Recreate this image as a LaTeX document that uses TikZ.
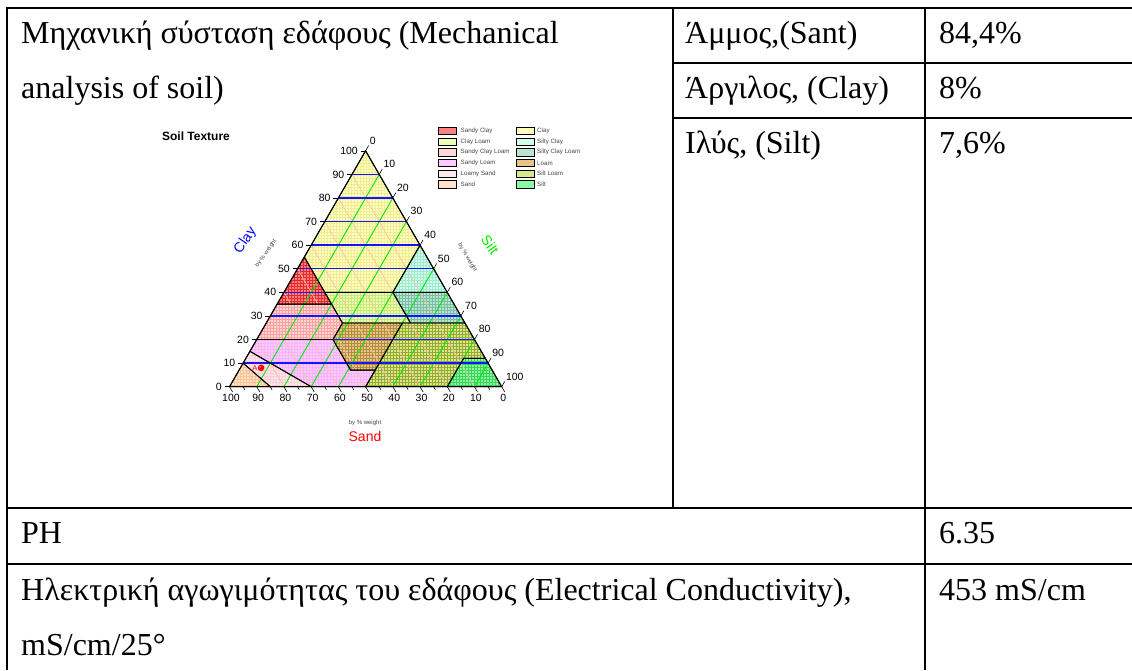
\documentclass[tikz,border=0pt]{standalone}
\usepackage{fontspec}
\setmainfont{Liberation Serif}
\setsansfont{Liberation Sans}
\usetikzlibrary{patterns}

\definecolor{sclay}{RGB}{255,130,130}  \definecolor{sclaym}{RGB}{230,40,40}
\definecolor{cloam}{RGB}{236,255,184}  \definecolor{cloamm}{RGB}{200,232,120}
\definecolor{scloam}{RGB}{255,214,214} \definecolor{scloamm}{RGB}{255,160,160}
\definecolor{sloam}{RGB}{255,202,255}  \definecolor{sloamm}{RGB}{245,180,245}
\definecolor{lsand}{RGB}{255,232,236}  \definecolor{lsandm}{RGB}{252,208,212}
\definecolor{sandc}{RGB}{255,226,200}  \definecolor{sandcm}{RGB}{252,196,150}
\definecolor{clayc}{RGB}{255,255,192}  \definecolor{claycm}{RGB}{242,236,150}
\definecolor{siclay}{RGB}{210,255,236} \definecolor{siclaym}{RGB}{160,235,205}
\definecolor{sicloam}{RGB}{184,228,208} \definecolor{sicloamm}{RGB}{120,190,160}
\definecolor{loam}{RGB}{228,198,136}   \definecolor{loamm}{RGB}{180,140,60}
\definecolor{siloam}{RGB}{216,232,144} \definecolor{siloamm}{RGB}{150,170,50}
\definecolor{siltc}{RGB}{140,250,160}  \definecolor{siltcm}{RGB}{60,210,90}
\definecolor{sandln}{RGB}{250,190,170}
\definecolor{siltln}{RGB}{0,235,0}
\definecolor{clayln}{RGB}{20,20,255}
\definecolor{keygray}{RGB}{70,70,70}

% point of the triangle: sand, silt, clay (sand corner at 229.5,386.7)
\newcommand{\tx}[3]{({229.5+2.722*(#2)+1.361*(#3)},{386.7-2.359*(#3)})}
\newcommand{\zClay}{\tx{0}{0}{100} -- \tx{45}{0}{55} -- \tx{45}{15}{40} -- \tx{20}{40}{40} -- \tx{0}{40}{60} -- cycle}
\newcommand{\zSaCl}{\tx{45}{0}{55} -- \tx{65}{0}{35} -- \tx{45}{20}{35} -- cycle}
\newcommand{\zSiCl}{\tx{0}{40}{60} -- \tx{20}{40}{40} -- \tx{0}{60}{40} -- cycle}
\newcommand{\zSaClLo}{\tx{65}{0}{35} -- \tx{80}{0}{20} -- \tx{52}{28}{20} -- \tx{45}{28}{27} -- \tx{45}{20}{35} -- cycle}
\newcommand{\zClLo}{\tx{45}{15}{40} -- \tx{20}{40}{40} -- \tx{20}{53}{27} -- \tx{45}{28}{27} -- cycle}
\newcommand{\zSiClLo}{\tx{20}{40}{40} -- \tx{0}{60}{40} -- \tx{0}{73}{27} -- \tx{20}{53}{27} -- cycle}
\newcommand{\zLoam}{\tx{45}{28}{27} -- \tx{23}{50}{27} -- \tx{43}{50}{7} -- \tx{52}{41}{7} -- \tx{52}{28}{20} -- cycle}
\newcommand{\zSiLo}{\tx{23}{50}{27} -- \tx{0}{73}{27} -- \tx{0}{88}{12} -- \tx{8}{80}{12} -- \tx{20}{80}{0} -- \tx{50}{50}{0} -- \tx{43}{50}{7} -- cycle}
\newcommand{\zSilt}{\tx{0}{88}{12} -- \tx{0}{100}{0} -- \tx{20}{80}{0} -- \tx{8}{80}{12} -- cycle}
\newcommand{\zSaLo}{\tx{80}{0}{20} -- \tx{52}{28}{20} -- \tx{52}{41}{7} -- \tx{43}{50}{7} -- \tx{50}{50}{0} -- \tx{70}{30}{0} -- \tx{85}{0}{15} -- cycle}
\newcommand{\zLoSa}{\tx{85}{0}{15} -- \tx{70}{30}{0} -- \tx{85}{15}{0} -- \tx{90}{0}{10} -- cycle}
\newcommand{\zSand}{\tx{90}{0}{10} -- \tx{85}{15}{0} -- \tx{100}{0}{0} -- cycle}

\begin{document}
\begin{tikzpicture}[x=1pt,y=-1pt,
    tline/.style={line width=2pt},
    cell/.style={anchor=base west,inner sep=0pt,font=\fontsize{32}{38}\selectfont},
    tick/.style={black,line width=0.6pt},
    num/.style={font=\sffamily\fontsize{10.5}{12}\selectfont,inner sep=1.5pt},
    zone/.style 2 args={fill=#1,postaction={pattern=grid,pattern color=#2}},
    bound/.style={black,line width=0.9pt,line join=round},
    key/.style={draw=black,line width=0.7pt,minimum width=18pt,minimum height=7.5pt,inner sep=0pt},
    keytxt/.style={font=\sffamily\fontsize{6.2}{7}\selectfont,text=keygray,anchor=west,inner sep=0pt},
    axlab/.style={font=\sffamily\fontsize{14}{15}\selectfont,inner sep=0pt},
    wtlab/.style={font=\sffamily\fontsize{6}{7}\selectfont,text=keygray,inner sep=0pt}]
    \useasboundingbox (0,0) rectangle (1132,670);
    % table
    \draw[tline] (7,670)--(7,8)--(1132,8);
    \draw[tline] (673,8)--(673,508);
    \draw[tline] (925,8)--(925,670);
    \draw[tline] (673,63)--(1132,63);
    \draw[tline] (673,118)--(1132,118);
    \draw[tline] (7,508)--(1132,508);
    \draw[tline] (7,564)--(1132,564);
    \node[cell] (mech1) at (21,43) {Μηχανική σύσταση εδάφους (Mechanical};
    \node[cell] (mech2) at (21,98) {analysis of soil)};
    \node[cell] (sandn) at (685,43) {Άμμος,(Sant)};
    \node[cell] (sandv) at (939,43) {84,4\%};
    \node[cell] (clayn) at (685,98) {Άργιλος, (Clay)};
    \node[cell] (clayv) at (939,98) {8\%};
    \node[cell] (siltn) at (685,153) {Ιλύς, (Silt)};
    \node[cell] (siltv) at (939,153) {7,6\%};
    \node[cell] (phn) at (21,543) {PH};
    \node[cell] (phv) at (939,543) {6.35};
    \node[cell] (ecn) at (21,600) {Ηλεκτρική αγωγιμότητας του εδάφους (Electrical Conductivity),};
    \node[cell] (ecu) at (21,655) {mS/cm/25°};
    \node[cell] (ecv) at (939,600) {453 mS/cm};
    % soil texture triangle
    \path \tx{100}{0}{0} coordinate (sa) \tx{0}{100}{0} coordinate (si) \tx{0}{0}{100} coordinate (cl);
    \node[font=\sffamily\bfseries\fontsize{12}{14}\selectfont,anchor=base] (title) at (196,140) {Soil Texture};
    \foreach \z/\fc/\mc in {\zClay/clayc/claycm,\zSaCl/sclay/sclaym,\zSiCl/siclay/siclaym,\zSaClLo/scloam/scloamm,\zClLo/cloam/cloamm,\zSiClLo/sicloam/sicloamm,\zLoam/loam/loamm,\zSiLo/siloam/siloamm,\zSilt/siltc/siltcm,\zSaLo/sloam/sloamm,\zLoSa/lsand/lsandm,\zSand/sandc/sandcm}
        \path[zone={\fc}{\mc}] \z;
    \foreach \s [evaluate=\s as \r using int(100-\s)] in {10,20,...,90}
        \draw[sandln,line width=0.6pt] \tx{\s}{\r}{0} -- \tx{\s}{0}{\r};
    \foreach \t [evaluate=\t as \r using int(100-\t)] in {10,20,...,90}
        \draw[siltln,line width=0.9pt] \tx{\r}{\t}{0} -- \tx{0}{\t}{\r};
    \foreach \c [evaluate=\c as \r using int(100-\c)] in {10,20,...,90}
        \draw[clayln,line width=1.4pt] \tx{\r}{0}{\c} -- \tx{0}{\r}{\c};
    \foreach \z in {\zClay,\zSaCl,\zSiCl,\zSaClLo,\zClLo,\zSiClLo,\zLoam,\zSiLo,\zSilt,\zSaLo,\zLoSa,\zSand}
        \draw[bound] \z;
    \draw[black,line width=1pt,line join=round] (sa) -- (si) -- (cl) -- cycle;
    % axes
    \foreach \c [evaluate=\c as \r using int(100-\c)] in {0,10,...,100}
        \draw[tick] \tx{\r}{0}{\c} -- ++(-5,0) node[num,anchor=east,inner sep=2.5pt] (lc\c) {\c};
    \foreach \t [evaluate=\t as \r using int(100-\t)] in {0,10,...,100}
        \draw[tick] \tx{0}{\t}{\r} -- ++(3,-5.2) node[num,anchor=south west,inner sep=1pt] (rt\t) {\t};
    \foreach \s [evaluate=\s as \r using int(100-\s)] in {0,10,...,100}
        \draw[tick] \tx{\s}{\r}{0} -- ++(3,5.2) node[num,anchor=north,xshift=-1.5pt] (bs\s) {\s};
    \foreach \s [evaluate=\s as \r using 100-\s] in {5,15,...,95}
        \draw[tick] \tx{\s}{\r}{0} -- ++(1.7,3);
    \node[axlab,text=blue,rotate=55] (clayax) at (245.5,240.5) {Clay};
    \node[wtlab,rotate=55] (claywt) at (266,253.5) {by \% weight};
    \node[axlab,text=siltln,rotate=-55] (siltax) at (490,245) {Silt};
    \node[wtlab,rotate=-60] (siltwt) at (467.5,257.5) {by \% weight};
    \node[wtlab] (sandwt) at (365,422.7) {by \% weight};
    \node[axlab,text=red] (sandax) at (365,436) {Sand};
    % sample
    \path \tx{84.4}{7.6}{8} coordinate (smp);
    \fill[red] (smp) circle (3.3);
    \fill[white,opacity=0.6] ([shift={(-1,-1)}]smp) circle (0.9);
    \node[font=\sffamily\fontsize{7}{8}\selectfont,text=red,anchor=east,inner sep=1pt] (smpl) at ([xshift=-2.5pt]smp) {A};
    % legend
    \foreach \nm/\fc [count=\i] in {Sandy Clay/sclay,Clay Loam/cloam,Sandy Clay Loam/scloam,Sandy Loam/sloam,Loamy Sand/lsand,Sand/sandc}
    {
        \node[key,fill=\fc] (ka\i) at (447.5,{120.4+10.65*\i}) {};
        \node[keytxt] (ta\i) at (460.5,{120.4+10.65*\i}) {\nm};
    }
    \foreach \nm/\fc [count=\i] in {Clay/clayc,Silty Clay/siclay,Silty Clay Loam/sicloam,Loam/loam,Silt Loam/siloam,Silt/siltc}
    {
        \node[key,fill=\fc] (kb\i) at (525,{120.4+10.65*\i}) {};
        \node[keytxt] (tb\i) at (537,{120.4+10.65*\i}) {\nm};
    }
\end{tikzpicture}
\end{document}
